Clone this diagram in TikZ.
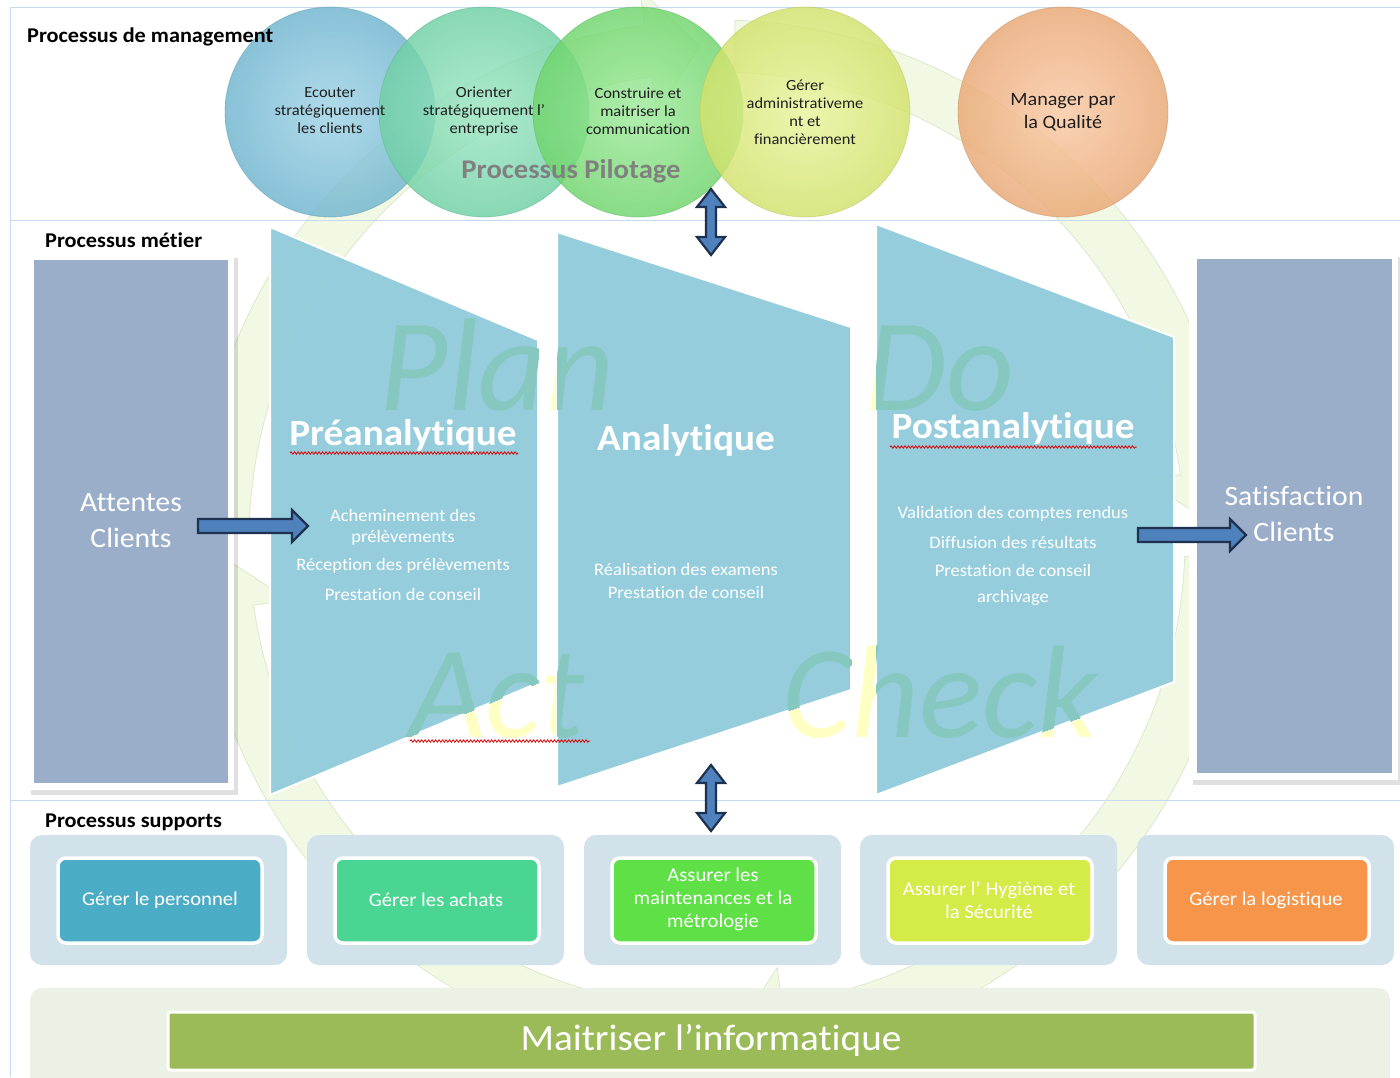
\documentclass[tikz,border=0pt]{standalone}
\usepackage{fontspec}
\setmainfont[FakeStretch=1.06, Ligatures={NoCommon,NoContextual}, Contextuals={NoAlternate}]{Carlito}
\newfontfamily\pdcafont{Carlito}
\newcommand\tI{t\kern0pt i}
\usetikzlibrary{calc,decorations.pathmorphing}
\definecolor{frameline}{HTML}{C5D9F1}
\definecolor{ringfill}{HTML}{F1F9E4}
\definecolor{ringedge}{HTML}{DCE9CA}
\definecolor{cA}{HTML}{76C0DC}
\definecolor{cB}{HTML}{76DDAF}
\definecolor{cC}{HTML}{76E272}
\definecolor{cD}{HTML}{E0F072}
\definecolor{cE}{HTML}{F8B27C}
\definecolor{trap}{HTML}{8FCADB}
\definecolor{rectblue}{HTML}{93A8C6}
\definecolor{arrfill}{HTML}{4F81BD}
\definecolor{arrdraw}{HTML}{1F3150}
\definecolor{supbg}{HTML}{D1E2EA}
\definecolor{sA}{HTML}{4BACC6}
\definecolor{sB}{HTML}{4BD592}
\definecolor{sC}{HTML}{5EE046}
\definecolor{sD}{HTML}{D5EB48}
\definecolor{sE}{HTML}{F7964A}
\definecolor{infobg}{HTML}{EBF1E5}
\definecolor{infobar}{HTML}{9BBB59}
\definecolor{pdcay}{HTML}{FFFFC4}
\definecolor{pdcat}{HTML}{86C8C0}
\begin{document}
\begin{tikzpicture}[x=1pt,y=-1pt,
  sectitle/.style={font=\fontsize{21}{24}\selectfont\bfseries, anchor=base west, inner sep=0pt},
  circtext/.style={font=\fontsize{15.5}{18}\selectfont, align=center, text=black!88, inner sep=0pt},
  bigtitle/.style={font=\fontsize{37}{40}\selectfont\bfseries, text=white, inner sep=0pt},
  smalltext/.style={font=\fontsize{17.5}{28}\selectfont, text=white, align=center, inner sep=0pt},
  pdca/.style={font=\fontsize{132}{140}\selectfont\pdcafont\itshape, anchor=base, inner sep=0pt},
  suptext/.style={font=\fontsize{19.5}{23}\selectfont, text=white, align=center, inner sep=0pt},
  blockarrow/.style={fill=arrfill, draw=arrdraw, line width=2.2pt, line join=miter},
  squiggle/.style={draw=red!85!black, line width=0.8pt, decorate, decoration={snake, amplitude=1.2pt, segment length=3.5pt}},
  ringarrow/.style={fill=ringfill, draw=ringedge, line width=0.8pt}
]
\useasboundingbox (0,0) rectangle (1400,1077);
\fill[white] (0,0) rectangle (1400,1077);

% ---------- PDCA ring in the background ----------
\coordinate (C) at (717,540);
\foreach \a/\b in {272/352, 2/82, 92/172, 182/262}{
  \pgfmathsetmacro\t{\b+6}
  \filldraw[ringarrow] ($(C)+(\a:520)$) arc[start angle=\a, end angle=\b, radius=520]
     -- ($(C)+(\b:556)$) -- ($(C)+(\t:494)$) -- ($(C)+(\b:432)$) -- ($(C)+(\b:468)$)
     arc[start angle=\b, end angle=\a, radius=468] -- cycle;
}

% ---------- frame lines ----------
\draw[frameline, line width=1pt] (10,1077) -- (10,7) -- (1400,7);
\draw[frameline, line width=1pt] (10,220) -- (1400,220);
\draw[frameline, line width=1pt] (10,800) -- (1400,800);

% ---------- Management ----------
\foreach \cx/\col [count=\i] in {330/cA, 484/cB, 638/cC, 805/cD, 1063/cE}{
  \shade[inner color=\col!70!white, outer color=\col!94!black, fill opacity=0.82]
     (\cx,112) circle[radius=105];
  \draw[\col!80!black, line width=0.8pt, opacity=0.45] (\cx,112) circle[radius=105];
}
\node[sectitle] (tmgmt) at (27,42) {Processus de management};
\node[circtext] (m1) at (330,111) {Ecouter\\strat\'egiquement\\les clients};
\node[circtext] (m2) at (484,111) {Orienter\\strat\'egiquement l’\\entreprise};
\node[circtext] (m3) at (638,111) {Construire et\\maitriser la\\communica\tI on};
\node[circtext] (m4) at (805,112) {G\'erer\\administra\tI veme\\nt et\\financi\`erement};
\node[circtext, font=\fontsize{19}{23}\selectfont] (m5) at (1063,112) {Manager par\\la Qualit\'e};
\node[font=\fontsize{27}{30}\selectfont\bfseries, text=black!50, inner sep=0pt] (pilot) at (571,171) {Processus Pilotage};

% ---------- Processus metier ----------
\node[sectitle] (tmetier) at (45,247) {Processus m\'e\tI er};

% side rectangles
\fill[black, opacity=0.12] (31,258) rectangle (238,795);
\fill[white] (27,254) rectangle (234,790);
\fill[rectblue, fill opacity=0.93] (34,260) rectangle (228,783);
\node[font=\fontsize{28}{36}\selectfont, text=white, align=center, inner sep=0pt] (attentes) at (131,521) {Attentes\\Clients};

\fill[black, opacity=0.12] (1193,257) rectangle (1400,785);
\fill[white] (1189,253) rectangle (1398,780);
\fill[rectblue, fill opacity=0.93] (1197,259) rectangle (1392,773);
\node[font=\fontsize{28}{36}\selectfont, text=white, align=center, inner sep=0pt] (satisf) at (1294,514) {Satisfac\tI on\\Clients};

% PDCA words, yellow part
\node[pdca, text=pdcay] (plan) at (497,410) {Plan};
\node[pdca, text=pdcay] (do) at (940,410) {Do};
\node[pdca, text=pdcay] (act) at (497,737) {Act};
\node[pdca, text=pdcay] (check) at (940,737) {Check};

% trapezoids
\filldraw[fill=trap, fill opacity=0.93, draw=white, line width=2pt] (270,227) -- (538,340) -- (538,683) -- (270,795) -- cycle;
\filldraw[fill=trap, fill opacity=0.93, draw=white, line width=2pt] (557,232) -- (851,327) -- (851,690) -- (557,787) -- cycle;
\filldraw[fill=trap, fill opacity=0.93, draw=white, line width=2pt] (876,224) -- (1174,337) -- (1174,682) -- (876,795) -- cycle;

% PDCA words, teal part inside trapezoids
\begin{scope}
  \clip (270,227) -- (538,340) -- (538,683) -- (270,795) -- cycle
        (557,232) -- (851,327) -- (851,690) -- (557,787) -- cycle
        (876,224) -- (1174,337) -- (1174,682) -- (876,795) -- cycle;
  \node[pdca, text=pdcat] at (497,410) {Plan};
  \node[pdca, text=pdcat] at (940,410) {Do};
  \node[pdca, text=pdcat] at (497,737) {Act};
  \node[pdca, text=pdcat] at (940,737) {Check};
\end{scope}
\draw[squiggle] (410,741) -- (590,741);

% trapezoid texts
\node[bigtitle] (pre) at (403,435) {Pr\'eanalytique};
\draw[squiggle] (290,453) -- (518,453);
\node[smalltext, font=\fontsize{17.5}{21}\selectfont] (pre1) at (403,527) {Acheminement des\\pr\'el\`evements};
\node[smalltext] (pre2) at (403,566) {R\'ecep\tI on des pr\'el\`evements};
\node[smalltext] (pre3) at (403,594) {Presta\tI on de conseil};

\node[bigtitle] (ana) at (686,440) {Analy\tI que};
\node[smalltext] (ana1) at (686,569) {R\'ealisa\tI on des examens};
\node[smalltext] (ana2) at (686,592) {Presta\tI on de conseil};

\node[bigtitle] (post) at (1013,428) {Postanaly\tI que};
\draw[squiggle] (890,447) -- (1137,447);
\node[smalltext] (post1) at (1013,514) {Valida\tI on des comptes rendus};
\node[smalltext] (post2) at (1013,542) {Diffusion des r\'esultats};
\node[smalltext] (post3) at (1013,570) {Presta\tI on de conseil};
\node[smalltext] (post4) at (1013,598) {archivage};

% block arrows
\draw[blockarrow] (198,519) -- (292,519) -- (292,510) -- (308,526) -- (292,542) -- (292,533) -- (198,533) -- cycle;
\draw[blockarrow] (1138,528) -- (1230,528) -- (1230,519) -- (1246,535) -- (1230,551) -- (1230,542) -- (1138,542) -- cycle;
\draw[blockarrow] (711,189) -- (725,207) -- (716,207) -- (716,237) -- (725,237) -- (711,255) -- (697,237) -- (706,237) -- (706,207) -- (697,207) -- cycle;
\draw[blockarrow] (711,765) -- (725,783) -- (716,783) -- (716,813) -- (725,813) -- (711,831) -- (697,813) -- (706,813) -- (706,783) -- (697,783) -- cycle;

% ---------- Processus supports ----------
\node[sectitle] (tsupport) at (45,827) {Processus supports};
\foreach \x/\col/\n in {30/sA/1, 307/sB/2, 584/sC/3, 860/sD/4, 1137/sE/5}{
  \fill[supbg, rounded corners=12pt] (\x,835) rectangle ++(257,130);
  \filldraw[fill=\col, draw=white, line width=3.5pt, rounded corners=8pt] ($(\x,858)+(28,0)$) rectangle ++(204,85);
}
\node[suptext] (s1) at (160,900) {G\'erer le personnel};
\node[suptext] (s2) at (436,900) {G\'erer les achats};
\node[suptext] (s3) at (713,899) {Assurer les\\maintenances et la\\m\'etrologie};
\node[suptext] (s4) at (989,900) {Assurer l’ Hygi\`ene et\\la S\'ecurit\'e};
\node[suptext] (s5) at (1266,900) {G\'erer la logis\tI que};

% ---------- informatique ----------
\fill[infobg, rounded corners=12pt] (30,988) rectangle (1390,1095);
\filldraw[fill=infobar, draw=white, line width=3pt, rounded corners=3pt] (168,1012) rectangle (1255,1070);
\node[font=\fontsize{37}{42}\selectfont, text=white, inner sep=0pt] (info) at (711,1040) {Maitriser l’informa\tI que};
\end{tikzpicture}
\end{document}
